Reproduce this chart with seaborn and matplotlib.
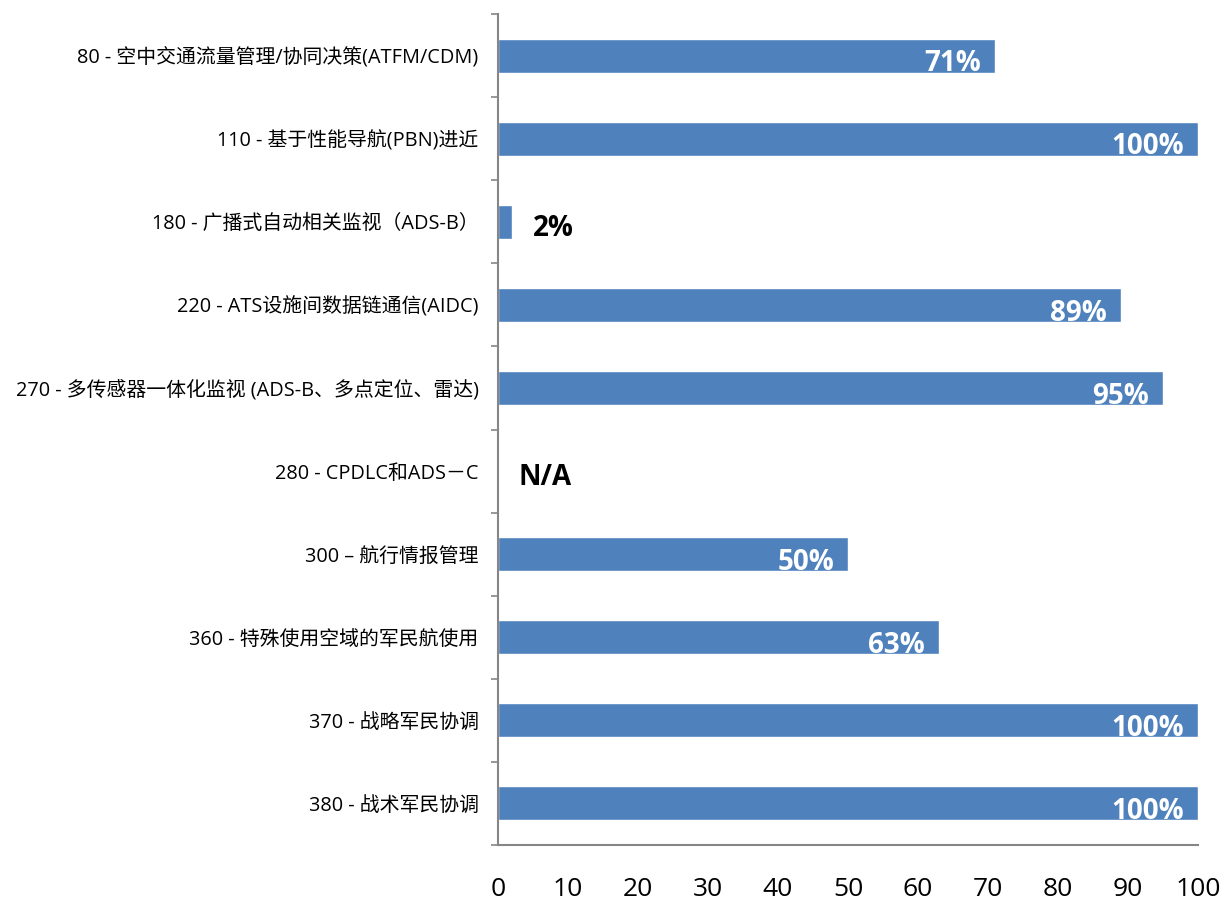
import numpy as np
import pandas as pd
import matplotlib
matplotlib.use("Agg")
import matplotlib.pyplot as plt
import seaborn as sns

# data
categories = [
    "80 - 空中交通流量管理/协同决策(ATFM/CDM)",
    "110 - 基于性能导航(PBN)进近",
    "180 - 广播式自动相关监视（ADS-B）",
    "220 - ATS设施间数据链通信(AIDC)",
    "270 - 多传感器一体化监视 (ADS-B、多点定位、雷达)",
    "280 - CPDLC和ADS－C",
    "300 – 航行情报管理",
    "360 - 特殊使用空域的军民航使用",
    "370 - 战略军民协调",
    "380 - 战术军民协调",
]
values = [71, 100, 2, 89, 95, np.nan, 50, 63, 100, 100]
value_labels = ["71%", "100%", "2%", "89%", "95%", "N/A", "50%", "63%", "100%", "100%"]
xticks = list(range(0, 101, 10))

sns.set_style("white")
plt.rcParams['font.family'] = ['Open Sans', 'Noto Sans CJK SC', 'DejaVu Sans']
plt.rcParams['text.color'] = 'black'
plt.rcParams['xtick.color'] = 'black'
plt.rcParams['ytick.color'] = 'black'

df = pd.DataFrame({"item": categories, "pct": values})
df["plot"] = df["pct"].fillna(0)

fig = plt.figure(figsize=(12.25, 9.05), dpi=100)
ax = fig.add_axes([0.4065, 0.0663, 0.9780 - 0.4065, 0.9845 - 0.0663])

sns.barplot(data=df, y="item", x="plot", orient="h", color="#4F81BD",
            saturation=1, width=0.41, ax=ax)

for i, (v, lab) in enumerate(zip(values, value_labels)):
    if np.isnan(v) or v < 10:
        x0 = 0 if np.isnan(v) else v
        ax.text(x0 + 3, i + 0.08, lab, ha="left", va="center", color="black",
                fontsize=20, fontweight="bold", family=['Open Sans', 'DejaVu Sans'])
    else:
        ax.text(v - 2, i + 0.1, lab, ha="right", va="center", color="white",
                fontsize=20, fontweight="bold", family=['Open Sans', 'DejaVu Sans'])

ax.set_xlim(0, 100)
ax.set_ylim(len(categories) - 0.5, -0.5)
ax.set_xticks(xticks)
ax.set_xticklabels([str(t) for t in xticks], fontsize=19)
ax.set_xlabel("")
ax.set_ylabel("")
ax.set_yticks(range(len(categories)))
ax.set_yticklabels(categories, fontsize=14.3)
ax.set_yticks(np.arange(-0.5, len(categories), 1), minor=True)
ax.tick_params(axis="y", which="major", length=0, pad=14)
ax.tick_params(axis="y", which="minor", length=5, width=1.2, color="#868686", direction="out", left=True)
ax.tick_params(axis="x", length=0, pad=23)

for s in ["top", "right"]:
    ax.spines[s].set_visible(False)
for s in ["left", "bottom"]:
    ax.spines[s].set_color("#868686")
    ax.spines[s].set_linewidth(1.5)

fig.savefig("out.png", dpi=100)
